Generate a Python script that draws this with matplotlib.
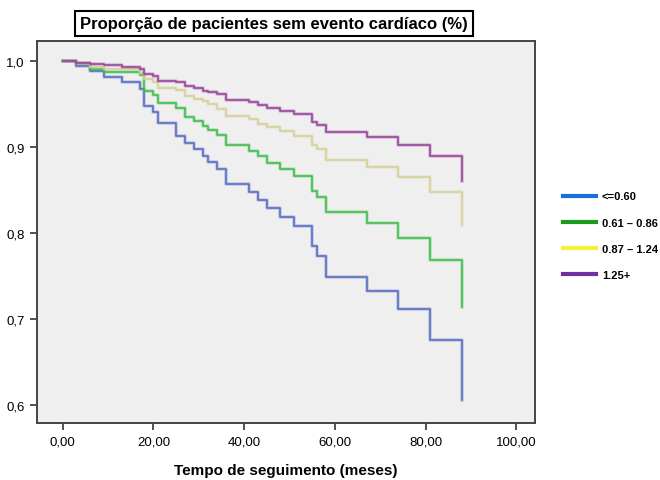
import matplotlib

matplotlib.use("Agg")
import matplotlib.pyplot as plt
from matplotlib.lines import Line2D
from matplotlib.ticker import FuncFormatter

plt.rcParams["font.family"] = ["Liberation Sans", "DejaVu Sans"]

# Shared event times (months) and survival per group
times = [0, 3, 6, 9, 13, 17, 18, 20, 21, 25, 27, 29, 31, 32, 34, 36,
         41, 43, 45, 48, 51, 55, 56, 58, 67, 74, 81, 88]
surv_le060 = [1.0, 0.994, 0.988, 0.981, 0.975, 0.967, 0.948, 0.941, 0.928,
              0.913, 0.905, 0.897, 0.889, 0.883, 0.874, 0.857, 0.848, 0.838,
              0.829, 0.818, 0.808, 0.785, 0.773, 0.749, 0.733, 0.711, 0.676,
              0.606]
surv_061_086 = [1.0, 0.997, 0.991, 0.987, 0.987, 0.983, 0.965, 0.960, 0.951,
                0.945, 0.935, 0.930, 0.924, 0.920, 0.914, 0.902, 0.895, 0.889,
                0.881, 0.874, 0.866, 0.849, 0.842, 0.824, 0.812, 0.794, 0.769,
                0.714]
surv_087_124 = [1.0, 0.998, 0.993, 0.991, 0.990, 0.986, 0.979, 0.975, 0.969,
                0.966, 0.959, 0.956, 0.953, 0.950, 0.944, 0.936, 0.932, 0.927,
                0.923, 0.919, 0.913, 0.902, 0.897, 0.885, 0.877, 0.865, 0.847,
                0.809]
surv_125 = [1.0, 0.998, 0.996, 0.995, 0.993, 0.991, 0.985, 0.982, 0.977,
            0.975, 0.971, 0.969, 0.965, 0.964, 0.961, 0.955, 0.952, 0.949,
            0.945, 0.942, 0.938, 0.929, 0.926, 0.917, 0.911, 0.902, 0.889,
            0.860]

labels = ["<=0.60", "0.61 \u2013 0.86", "0.87 \u2013 1.24", "1.25+"]
curves = [surv_le060, surv_061_086, surv_087_124, surv_125]
line_colors = ["#5468c0", "#3cbb48", "#d6cf98", "#963f98"]
legend_colors = ["#1a6fd8", "#1c9a1c", "#f2f23c", "#7030a0"]

fig = plt.figure(figsize=(6.6, 4.81), dpi=100)
ax = fig.add_axes([0.056, 0.1185, 0.755, 0.794])
ax.set_facecolor("#efefef")

for vals, color in zip(curves, line_colors):
    ax.step(times, vals, where="post", color=color, linewidth=2.6, alpha=0.3)
    ax.step(times, vals, where="post", color=color, linewidth=1.1)

ax.set_xlim(-5.7, 104.2)
ax.set_ylim(0.579, 1.023)
ax.set_xticks([0, 20, 40, 60, 80, 100])
ax.set_yticks([0.6, 0.7, 0.8, 0.9, 1.0])
ax.xaxis.set_major_formatter(FuncFormatter(lambda v, p: f"{v:.2f}".replace(".", ",")))
ax.yaxis.set_major_formatter(FuncFormatter(lambda v, p: f"{v:.1f}".replace(".", ",")))
ax.tick_params(labelsize=9.5, length=5, width=1.2, color="#333333", pad=4)
for sp in ax.spines.values():
    sp.set_color("#444444")
    sp.set_linewidth(1.4)

ax.set_xlabel("Tempo de seguimento (meses)", fontsize=11, fontweight="bold",
              labelpad=11)
fig.text(0.415, 0.95, "Proporção de pacientes sem evento cardíaco (%)",
         ha="center", va="center", fontsize=12, fontweight="bold",
         bbox=dict(boxstyle="square,pad=0.3", facecolor="white",
                   edgecolor="black", linewidth=1.5))

handles = [Line2D([0], [0], color=c, linewidth=3) for c in legend_colors]
fig.legend(handles, labels, loc="center left", bbox_to_anchor=(0.838, 0.508),
           frameon=False, handlelength=3.0, labelspacing=1.45,
           handletextpad=0.5,
           prop={"family": ["Liberation Sans Narrow", "Liberation Sans"],
                 "weight": "bold", "size": 8})

fig.savefig("out.png", dpi=100)
